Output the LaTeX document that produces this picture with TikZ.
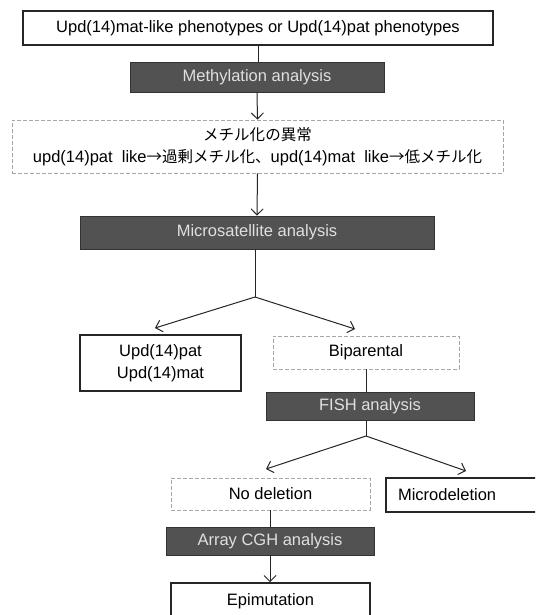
\documentclass[tikz,border=0pt]{standalone}
\usepackage{fontspec}
\setmainfont{Liberation Sans}
\newfontfamily\cjk[Scale=0.94]{Noto Sans CJK JP}
\usetikzlibrary{arrows.meta}
\begin{document}
\begin{tikzpicture}[x=1pt,y=-1pt,
  every node/.style={inner sep=0pt, font=\fontsize{16.5}{22}\selectfont, align=center},
  whitebox/.style={draw=black!85, line width=1.6pt, fill=white},
  faintbox/.style={draw=black!35, line width=0.7pt, dash pattern=on 4pt off 2pt},
  darkbox/.style={fill=black!68, draw=black!80, line width=0.8pt, text=black!12},
  conn/.style={draw=black!85, line width=1pt},
  arr/.style={conn, -{Straight Barb[length=6pt,width=12pt]}},
]
\useasboundingbox (0,0) rectangle (535,615);
\clip (0,0) rectangle (535,615);
\fill[white] (0,0) rectangle (535,615);

% nodes
\node[whitebox, minimum width=470pt, minimum height=34pt] (top) at (258,28)
  {Upd(14)mat-like phenotypes or Upd(14)pat phenotypes};
\node[darkbox, minimum width=254pt, minimum height=30pt] (meth) at (257,77)
  {Methylation analysis};
\node[faintbox, minimum width=491pt, minimum height=53pt] (jp) at (257.5,146.5)
  {{\cjk メチル化の異常}\\upd(14)pat\ \ like{\cjk →過剰メチル化、}upd(14)mat\ \ like{\cjk →低メチル化}};
\node[darkbox, minimum width=354pt, minimum height=33pt] (micro) at (257,232.5)
  {Microsatellite analysis};
\node[whitebox, line width=2pt, minimum width=161pt, minimum height=56pt] (upd) at (160.5,363)
  {Upd(14)pat\\Upd(14)mat};
\node[faintbox, minimum width=186pt, minimum height=33pt] (bip) at (366,352.5)
  {Biparental};
\node[darkbox, minimum width=208pt, minimum height=28pt] (fish) at (370,406)
  {FISH analysis};
\node[faintbox, minimum width=199pt, minimum height=32pt] (nodel) at (270.5,494)
  {No deletion};
\node[whitebox, minimum width=159pt, minimum height=34pt, text width=135pt,
      inner xsep=12pt, align=left] (mdel) at (465.5,495)
  {Microdeletion};
\node[darkbox, minimum width=208pt, minimum height=28pt] (acgh) at (270,541)
  {Array CGH analysis};
\node[whitebox, minimum width=199pt, minimum height=37pt] (epi) at (270.5,601.5)
  {Epimutation};

% branch coordinates
\coordinate (b1) at (255,297);
\coordinate (t1) at (155,328);
\coordinate (t2) at (355,329);
\coordinate (b2) at (366,436);
\coordinate (t3) at (266,469);
\coordinate (t4) at (466,471);

% connectors
\draw[conn] (top.south) -- (top.south |- meth.north);
\draw[arr] (meth.south) -- (jp.north);
\draw[arr] (jp.south) -- (micro.north);
\draw[conn] (b1 |- micro.south) -- (b1);
\draw[arr] (b1) -- (t1);
\draw[arr] (b1) -- (t2);
\draw[conn] (bip.south) -- (bip.south |- fish.north);
\draw[conn] (b2 |- fish.south) -- (b2);
\draw[arr] (b2) -- (t3);
\draw[arr] (b2) -- (t4);
\draw[conn] (nodel.south -| acgh.north) -- (acgh.north);
\draw[arr] (acgh.south) -- (epi.north -| acgh.south);
\end{tikzpicture}
\end{document}
